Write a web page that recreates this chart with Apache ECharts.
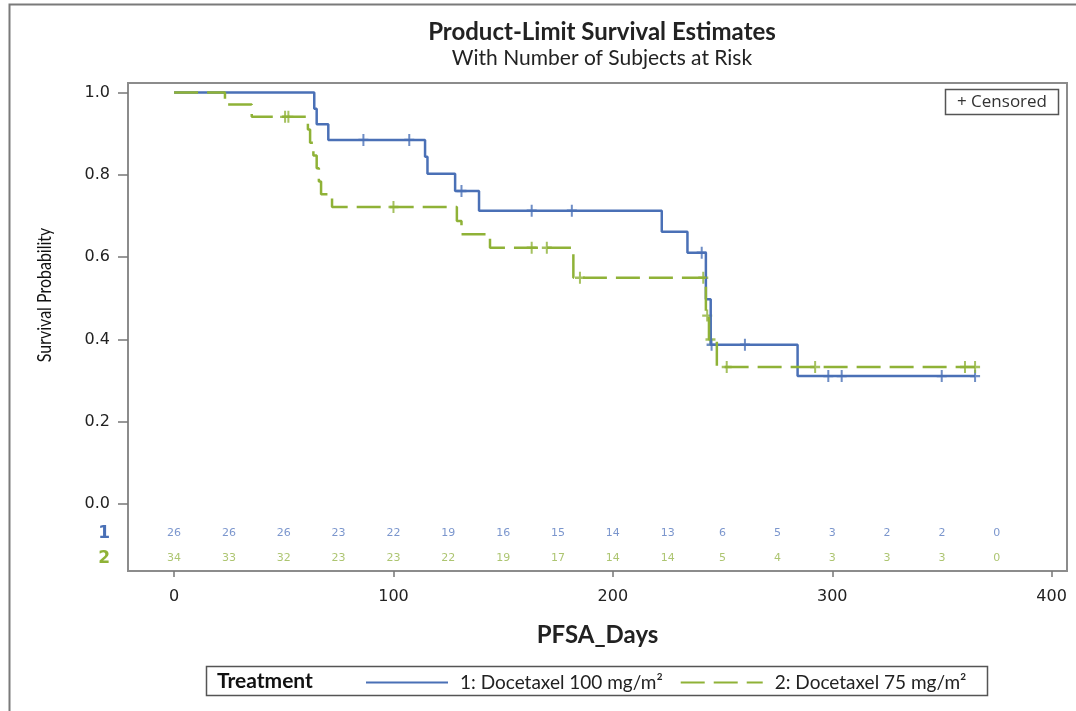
<!DOCTYPE html>
<html>
<head>
<meta charset="utf-8">
<script src="https://cdn.jsdelivr.net/npm/echarts@6/dist/echarts.min.js"></script>
<style>
  html, body { margin: 0; padding: 0; background: #fff; }
  #km { width: 1076px; height: 711px; }
</style>
</head>
<body>
<div id="km"></div>
<script>
// 生存曲线数据
var blueTimes = [0, 63.9, 65.0, 70.3, 114.4, 115.5, 128.1, 139.0, 222.3, 234.0, 242.4, 244.6, 284.2, 365.1];
var blueSurv  = [1.0, 0.961, 0.923, 0.885, 0.844, 0.803, 0.761, 0.713, 0.662, 0.611, 0.498, 0.387, 0.311, 0.311];
var blueCensorTimes = [86.3, 107.2, 131.0, 163.0, 181.3, 240.5, 245.0, 260.2, 298.2, 304.3, 349.9, 365.1];
var blueCensorSurv  = [0.885, 0.885, 0.761, 0.713, 0.713, 0.611, 0.387, 0.387, 0.311, 0.311, 0.311, 0.311];

var greenTimes = [0, 23.2, 35.4, 61.0, 62.0, 63.5, 65.0, 66.0, 67.0, 72.0, 128.9, 131.0, 144.0, 182.0, 242.4, 243.8, 247.4, 365.1];
var greenSurv  = [1.0, 0.971, 0.941, 0.910, 0.878, 0.847, 0.816, 0.784, 0.753, 0.722, 0.688, 0.656, 0.623, 0.550, 0.458, 0.400, 0.333, 0.333];
var greenCensorTimes = [50.6, 52.1, 100.0, 163.0, 169.9, 185.0, 241.2, 243.0, 244.5, 251.9, 292.2, 360.5, 365.1];
var greenCensorSurv  = [0.941, 0.941, 0.722, 0.623, 0.623, 0.550, 0.550, 0.458, 0.400, 0.333, 0.333, 0.333, 0.333];

// 风险人数
var atRiskTimes = [0, 25, 50, 75, 100, 125, 150, 175, 200, 225, 250, 275, 300, 325, 350, 375];
var blueRisk  = [26, 26, 26, 23, 22, 19, 16, 15, 14, 13, 6, 5, 3, 2, 2, 0];
var greenRisk = [34, 33, 32, 23, 23, 22, 19, 17, 14, 14, 5, 4, 3, 3, 3, 0];

var xTicks = [0, 100, 200, 300, 400];
var yTicks = [0, 0.2, 0.4, 0.6, 0.8, 1.0];
var seriesNames = ["1: Docetaxel 100 mg/m\u00b2", "2: Docetaxel 75 mg/m\u00b2"];

var BLUE = "#4a70b6";
var GREEN = "#8fb237";
var ROW1 = -0.0712, ROW2 = -0.132;
var PLUS = "path://M4,0h2v4h4v2h-4v4h-2v-4h-4v-2h4z";

function zip(a, b) {
  return a.map(function (v, i) { return [v, b[i]]; });
}
function riskData(counts, y) {
  return counts.map(function (n, i) { return [atRiskTimes[i], y, n]; });
}

var myChart = echarts.init(document.getElementById("km"));
var option = {
  animation: false,
  title: {
    text: "Product-Limit Survival Estimates",
    subtext: "With Number of Subjects at Risk",
    left: 597,
    textAlign: "center",
    top: 15,
    itemGap: 4,
    textStyle: { fontFamily: "Lato", fontSize: 24, fontWeight: "bold", color: "#222" },
    subtextStyle: { fontFamily: "Lato", fontSize: 21, color: "#222" }
  },
  legend: {
    left: 360,
    top: 668,
    itemWidth: 82,
    itemHeight: 14,
    itemGap: 17,
    data: seriesNames,
    itemStyle: { opacity: 0 },
    textStyle: { fontFamily: "Lato", fontSize: 19, color: "#222", padding: [0, 0, 0, 7] }
  },
  grid: {
    left: 128,
    right: 9,
    top: 83,
    bottom: 140,
    show: true,
    borderColor: "#8c8c8c",
    borderWidth: 2
  },
  xAxis: {
    type: "value",
    min: -21,
    max: 407,
    name: "PFSA_Days",
    nameLocation: "middle",
    nameGap: 52,
    nameTextStyle: { fontFamily: "Lato", fontSize: 24, fontWeight: "bold", color: "#222" },
    axisLine: { show: false, onZero: false },
    splitLine: { show: false },
    axisTick: { show: true, length: 6, customValues: xTicks, lineStyle: { color: "#777", width: 1.5 } },
    axisLabel: { customValues: xTicks, fontFamily: "DejaVu Sans", fontSize: 16, color: "#222", margin: 18 }
  },
  yAxis: {
    type: "value",
    min: -0.1627,
    max: 1.0233,
    axisLine: { show: false, onZero: false },
    splitLine: { show: false },
    axisTick: { show: true, length: 10, customValues: yTicks, lineStyle: { color: "#777", width: 1.5 } },
    axisLabel: {
      customValues: [ROW2, ROW1].concat(yTicks),
      margin: 18,
      formatter: function (v) {
        if (v === ROW1) return "{b|1}";
        if (v === ROW2) return "{g|2}";
        return v.toFixed(1);
      },
      fontFamily: "DejaVu Sans",
      fontSize: 16,
      color: "#222",
      rich: {
        b: { fontFamily: "DejaVu Sans", fontSize: 17, fontWeight: "bold", color: BLUE },
        g: { fontFamily: "DejaVu Sans", fontSize: 17, fontWeight: "bold", color: GREEN }
      }
    }
  },
  graphic: [
    { type: "rect", shape: { x: 9.5, y: 4.5, width: 1100, height: 800 }, style: { fill: "none", stroke: "#7a7a7a", lineWidth: 2 }, silent: true },
    {
      type: "text", x: 45, y: 295, rotation: Math.PI / 2, scaleX: 0.8,
      style: { text: "Survival Probability", font: "20px Lato", fill: "#111", align: "center", verticalAlign: "middle" }
    },
    { type: "rect", shape: { x: 945.5, y: 89.5, width: 113, height: 25 }, style: { fill: "#fff", stroke: "#555", lineWidth: 1.5 } },
    {
      type: "text", x: 1002, y: 102,
      style: { text: "+ Censored", font: "17px 'Open Sans'", fill: "#333", align: "center", verticalAlign: "middle" }
    },
    { type: "rect", shape: { x: 206.5, y: 666.5, width: 781, height: 29 }, style: { fill: "none", stroke: "#555", lineWidth: 1.5 }, z: -1 },
    {
      type: "text", x: 217, y: 681,
      style: { text: "Treatment", font: "bold 21px Lato", fill: "#111", verticalAlign: "middle" }
    }
  ],
  series: [
    {
      name: seriesNames[0],
      type: "line",
      step: "end",
      showSymbol: false,
      symbol: "none",
      data: zip(blueTimes, blueSurv),
      lineStyle: { color: BLUE, width: 2.5 },
      itemStyle: { color: BLUE }
    },
    {
      name: seriesNames[1],
      type: "line",
      step: "end",
      showSymbol: false,
      symbol: "none",
      data: zip(greenTimes, greenSurv),
      lineStyle: { color: GREEN, width: 2.5, type: [24, 9] },
      itemStyle: { color: GREEN }
    },
    {
      name: "censor1",
      type: "scatter",
      symbol: PLUS,
      symbolSize: [10, 12],
      data: zip(blueCensorTimes, blueCensorSurv),
      itemStyle: { color: BLUE }
    },
    {
      name: "censor2",
      type: "scatter",
      symbol: PLUS,
      symbolSize: [10, 12],
      data: zip(greenCensorTimes, greenCensorSurv),
      itemStyle: { color: GREEN }
    },
    {
      name: "risk1",
      type: "scatter",
      symbolSize: 0,
      silent: true,
      data: riskData(blueRisk, ROW1),
      label: {
        show: true, position: "inside", formatter: function (p) { return p.value[2]; },
        fontFamily: "DejaVu Sans", fontSize: 11, color: "#5a7cc0"
      }
    },
    {
      name: "risk2",
      type: "scatter",
      symbolSize: 0,
      silent: true,
      data: riskData(greenRisk, ROW2),
      label: {
        show: true, position: "inside", formatter: function (p) { return p.value[2]; },
        fontFamily: "DejaVu Sans", fontSize: 11, color: "#98b64e"
      }
    }
  ]
};
myChart.setOption(option);
</script>
</body>
</html>
